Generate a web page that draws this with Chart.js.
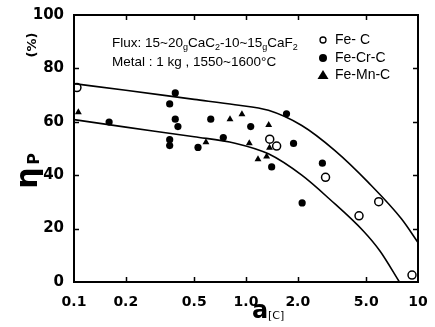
<!DOCTYPE html>
<html>
<head>
<meta charset="utf-8">
<script src="https://cdn.jsdelivr.net/npm/chart.js@4/dist/chart.umd.min.js"></script>
<style>
html,body{margin:0;padding:0;background:#fff;}
canvas{display:block;}
</style>
</head>
<body>
<canvas id="c" width="435" height="327"></canvas>
<script>
// ---- data ----
const xTickValues = [0.1, 0.2, 0.5, 1, 2, 5, 10];
const xTickLabels = ['0.1', '0.2', '0.5', '1.0', '2.0', '5.0', '10'];
const yTickValues = [0, 20, 40, 60, 80, 100];

const feC_x = [0.104, 1.374, 1.507, 2.90, 4.54, 5.91, 9.23];
const feC_y = [72.8, 53.5, 50.9, 39.2, 24.8, 30.1, 2.6];

const feCrC_x = [0.160, 0.388, 0.360, 0.388, 0.402, 0.360, 0.360, 0.526, 0.624, 0.738, 1.065, 1.72, 1.89, 1.41, 2.78, 2.12];
const feCrC_y = [59.9, 70.8, 66.7, 61.0, 58.2, 53.3, 51.1, 50.4, 61.0, 54.1, 58.2, 63.0, 51.9, 43.1, 44.5, 29.6];

const feMnC_x = [0.106, 0.585, 0.807, 0.947, 1.355, 1.045, 1.37, 1.174, 1.318];
const feMnC_y = [63.6, 52.3, 61.0, 62.8, 58.8, 52.0, 50.3, 46.0, 47.0];

const upper_x = [0.1, 0.2, 0.5, 0.863, 1.35, 2.11, 3.29, 5.14, 8.03, 10];
const upper_y = [74.3, 71.8, 68.4, 66.4, 64.3, 58.6, 49.2, 37.3, 23.6, 14.8];

const lower_x = [0.1, 0.2, 0.5, 0.863, 1.35, 2.11, 3.08, 4.81, 6.01, 7.8];
const lower_y = [60.8, 58.0, 54.4, 52.0, 48.0, 40.0, 30.9, 19.1, 11.6, 0];

const legendLabels = ['Fe- C', 'Fe-Cr-C', 'Fe-Mn-C'];

const pts = (xs, ys) => xs.map((x, i) => ({x: x, y: ys[i]}));

const decor = {
  id: 'decor',
  afterDraw(chart) {
    const ctx = chart.ctx;
    const a = chart.chartArea;
    const xs = chart.scales.x, ys = chart.scales.y;
    ctx.save();
    // frame
    ctx.strokeStyle = '#000';
    ctx.lineWidth = 2;
    ctx.strokeRect(a.left, a.top, a.right - a.left, a.bottom - a.top);
    // inward ticks
    ctx.lineWidth = 1.5;
    ctx.beginPath();
    xTickValues.slice(1, -1).forEach(v => {
      const px = Math.round(xs.getPixelForValue(v)) + 0.5;
      ctx.moveTo(px, a.bottom); ctx.lineTo(px, a.bottom - 5);
      ctx.moveTo(px, a.top); ctx.lineTo(px, a.top + 5);
    });
    yTickValues.slice(1, -1).forEach(v => {
      const py = Math.round(ys.getPixelForValue(v)) + 0.5;
      ctx.moveTo(a.left, py); ctx.lineTo(a.left + 5, py);
      ctx.moveTo(a.right, py); ctx.lineTo(a.right - 5, py);
    });
    ctx.stroke();

    // annotation text with subscripts
    ctx.fillStyle = '#000';
    ctx.textBaseline = 'alphabetic';
    ctx.textAlign = 'left';
    const main = '13.5px "Liberation Sans", Arial, sans-serif';
    const sub = '9px "Liberation Sans", Arial, sans-serif';
    function runs(x, y, segs) {
      segs.forEach(s => {
        ctx.font = s[1] ? sub : main;
        ctx.fillText(s[0], x, y + (s[1] ? 3 : 0));
        x += ctx.measureText(s[0]).width;
      });
    }
    runs(112, 47, [['Flux: 15~20', 0], ['g', 1], ['CaC', 0], ['2', 1], ['-10~15', 0], ['g', 1], ['CaF', 0], ['2', 1]]);
    runs(112, 66, [['Metal : 1 kg , 1550~1600°C', 0]]);

    // legend
    const ly = [40, 58, 75];
    const lx = 323;
    ctx.lineWidth = 1.3;
    ctx.beginPath(); ctx.arc(lx, ly[0], 3, 0, Math.PI * 2); ctx.stroke();
    ctx.beginPath(); ctx.arc(lx, ly[1], 4, 0, Math.PI * 2); ctx.fill();
    ctx.beginPath();
    ctx.moveTo(lx, ly[2] - 5); ctx.lineTo(lx + 5.5, ly[2] + 4); ctx.lineTo(lx - 5.5, ly[2] + 4);
    ctx.closePath(); ctx.fill();
    ctx.font = '14px "Liberation Sans", Arial, sans-serif';
    ctx.textBaseline = 'middle';
    legendLabels.forEach((t, i) => ctx.fillText(t, 335, ly[i]));

    // x title
    ctx.textBaseline = 'alphabetic';
    ctx.font = 'bold 24px "DejaVu Sans", sans-serif';
    ctx.fillText('a', 252, 318);
    ctx.font = '11px "DejaVu Sans", sans-serif';
    ctx.fillText('[C]', 268, 319);

    // y title (rotated)
    ctx.save();
    ctx.translate(29, 178);
    ctx.rotate(-Math.PI / 2);
    ctx.textAlign = 'center';
    ctx.textBaseline = 'middle';
    ctx.font = 'bold 30px "DejaVu Sans", sans-serif';
    ctx.fillText('η', 0, 0);
    ctx.font = 'bold 16px "DejaVu Sans", sans-serif';
    ctx.fillText('P', 19, 6);
    ctx.restore();
    ctx.save();
    ctx.translate(33, 45);
    ctx.rotate(-Math.PI / 2);
    ctx.textAlign = 'center';
    ctx.textBaseline = 'middle';
    ctx.font = 'bold 13px "DejaVu Sans", sans-serif';
    ctx.fillText('(%)', 0, 0);
    ctx.restore();

    ctx.restore();
  }
};

new Chart(document.getElementById('c'), {
  type: 'scatter',
  data: {
    datasets: [
      {
        label: 'upper', type: 'line', data: pts(upper_x, upper_y),
        borderColor: '#000', borderWidth: 1.6, pointRadius: 0,
        cubicInterpolationMode: 'monotone', fill: false
      },
      {
        label: 'lower', type: 'line', data: pts(lower_x, lower_y),
        borderColor: '#000', borderWidth: 1.6, pointRadius: 0,
        cubicInterpolationMode: 'monotone', fill: false
      },
      {
        label: legendLabels[0], data: pts(feC_x, feC_y),
        pointStyle: 'circle', pointRadius: 4, borderWidth: 1.5,
        borderColor: '#000', backgroundColor: '#fff'
      },
      {
        label: legendLabels[1], data: pts(feCrC_x, feCrC_y),
        pointStyle: 'circle', pointRadius: 3.6, borderWidth: 0,
        borderColor: '#000', backgroundColor: '#000'
      },
      {
        label: legendLabels[2], data: pts(feMnC_x, feMnC_y),
        pointStyle: 'triangle', pointRadius: 4, borderWidth: 0,
        borderColor: '#000', backgroundColor: '#000'
      }
    ]
  },
  options: {
    responsive: false,
    animation: false,
    devicePixelRatio: 1,
    layout: { padding: { top: 15, right: 17, left: 0, bottom: 0 } },
    plugins: { legend: { display: false }, tooltip: { enabled: false } },
    scales: {
      x: {
        type: 'logarithmic', min: 0.1, max: 10,
        afterBuildTicks: (axis) => { axis.ticks = xTickValues.map(v => ({ value: v })); },
        afterFit: (axis) => { axis.height = 45; },
        grid: { display: false },
        border: { display: false },
        ticks: {
          autoSkip: false, maxRotation: 0, minRotation: 0, padding: 4,
          color: '#000',
          font: { family: '"DejaVu Sans", sans-serif', weight: 'bold', size: 14 },
          callback: (v, i) => xTickLabels[i]
        }
      },
      y: {
        type: 'linear', min: 0, max: 100,
        afterBuildTicks: (axis) => { axis.ticks = yTickValues.map(v => ({ value: v })); },
        afterFit: (axis) => { axis.width = 74; },
        grid: { display: false },
        border: { display: false },
        ticks: {
          padding: 2, color: '#000',
          font: { family: '"DejaVu Sans", sans-serif', weight: 'bold', size: 15 }
        }
      }
    }
  },
  plugins: [decor]
});
</script>
</body>
</html>
